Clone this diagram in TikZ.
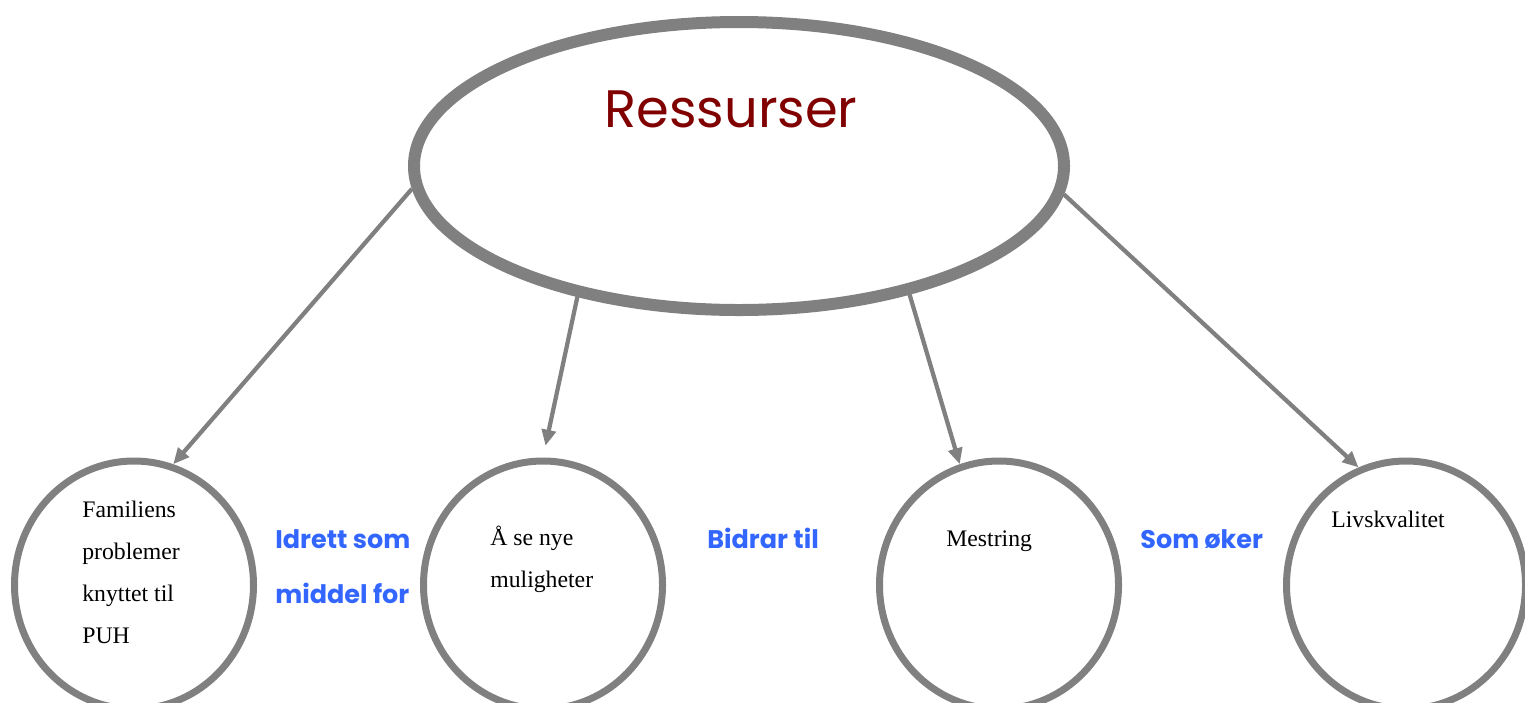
\documentclass[tikz,border=0pt]{standalone}
\usepackage{fontspec}
\setmainfont{Liberation Serif}
\setsansfont{Poppins}
\usetikzlibrary{shapes.geometric,arrows.meta}
\definecolor{gr}{HTML}{808080}
\definecolor{bl}{HTML}{3366FF}
\definecolor{dr}{HTML}{800000}
\begin{document}
\begin{tikzpicture}[x=0.2mm,y=-0.2mm,
 bigell/.style={ellipse,draw=gr,line width=2.4mm,minimum width=130mm,minimum height=57.6mm,inner sep=0},
 circ/.style={ellipse,draw=gr,line width=1.4mm,minimum width=47.8mm,minimum height=49.6mm,inner sep=0},
 conn/.style={draw=gr,line width=0.85mm,-{Triangle[length=3.2mm,width=2.8mm]}},
 lbl/.style={text=bl,font=\sffamily\bfseries\fontsize{14.5}{31}\selectfont,align=left,inner sep=0,anchor=base west},
 txt/.style={font=\fontsize{13.5}{23.8}\selectfont,align=left,inner sep=0,anchor=base west}]
\useasboundingbox (0,0) rectangle (1525,702);
\node[bigell] (R) at (739,166) {};
\node[text=dr,font=\sffamily\fontsize{30}{36}\selectfont,inner sep=0] (Rt) at (731,109) {Ressurser};
\node[circ] (c1) at (134,585) {};
\node[circ] (c2) at (543,585) {};
\node[circ] (c3) at (999,585) {};
\node[circ] (c4) at (1406,585) {};
\draw[conn] (R.184) -- (c1.72);
\draw[conn,shorten >=2.4mm] (R.219) -- (c2.90);
\draw[conn] (R.-37) -- (c3.108);
\draw[conn] (R.-5) -- (c4.112);
\node[txt] (t1) at (82,643) {Familiens\\problemer\\knyttet til\\PUH};
\node[txt] (t2) at (490,587) {Å se nye\\muligheter};
\node[txt] (t3) at (946,546) {Mestring};
\node[txt] (t4) at (1331,527) {Livskvalitet};
\node[lbl] (l1) at (275,603) {Idrett som\\middel for};
\node[lbl] (l2) at (707,548) {Bidrar til};
\node[lbl] (l3) at (1140,548) {Som øker};
\end{tikzpicture}
\end{document}
